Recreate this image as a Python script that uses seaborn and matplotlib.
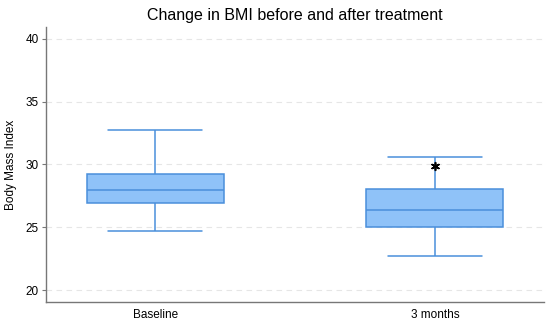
import matplotlib
matplotlib.use("Agg")
import matplotlib.pyplot as plt
import seaborn as sns
import pandas as pd

# Five-number summaries (min, Q1, median, Q3, max)
categories = ["Baseline", "3 months"]
baseline_vals = [24.68, 26.93, 27.96, 29.26, 32.78]
month3_vals = [22.67, 25.00, 26.37, 28.02, 30.58]
outlier_cat = ["3 months"]
outlier_vals = [29.86]
yticks = [20, 25, 30, 35, 40]

df = pd.DataFrame({
    "group": [categories[0]] * len(baseline_vals) + [categories[1]] * len(month3_vals),
    "bmi": baseline_vals + month3_vals,
})
out_df = pd.DataFrame({"group": outlier_cat, "bmi": outlier_vals})

sns.set_style("white")
plt.rcParams["font.family"] = ["Liberation Sans", "DejaVu Sans"]
plt.rcParams["text.color"] = "black"
plt.rcParams["axes.labelcolor"] = "black"
plt.rcParams["xtick.color"] = "black"
plt.rcParams["ytick.color"] = "black"

fig = plt.figure(figsize=(5.5, 3.24), dpi=100)
ax = fig.add_axes([0.0836, 0.068, 0.9054, 0.849])

edge = "#4a8fdb"
fill = "#8fc2f8"
sns.boxplot(data=df, x="group", y="bmi", order=categories, whis=(0, 100),
            width=0.49, color=fill, linecolor=edge, linewidth=1.1,
            showfliers=False, ax=ax)
sns.stripplot(data=out_df, x="group", y="bmi", order=categories, jitter=False,
              marker=(6, 2, 0), color="black", size=5.5, linewidth=1.2,
              edgecolor="black", ax=ax)

# widen caps to match reference
for line in ax.lines:
    xd = line.get_xdata()
    yd = line.get_ydata()
    if len(xd) == 2 and yd[0] == yd[1] and abs(xd[1] - xd[0]) < 0.3 and abs(xd[1] - xd[0]) > 0:
        c = (xd[0] + xd[1]) / 2
        line.set_xdata([c - 0.167, c + 0.167])

for p in ax.patches:
    p.set_facecolor(fill)
    p.set_edgecolor(edge)

ax.set_xlim(-0.39, 1.39)
ax.set_ylim(19.05, 40.95)
ax.set_yticks(yticks)
ax.yaxis.grid(True, linestyle=(0, (5, 4)), color="#e6e6e6", linewidth=0.8)
ax.set_axisbelow(True)
for s in ["top", "right"]:
    ax.spines[s].set_visible(False)
for s in ["left", "bottom"]:
    ax.spines[s].set_color("#777777")
    ax.spines[s].set_linewidth(1.0)
ax.tick_params(axis="y", direction="out", length=3, width=0.8, color="#777777",
               labelcolor="black", labelsize=8.5, pad=2, left=True)
ax.tick_params(axis="x", length=0, labelsize=8.5, pad=5, labelcolor="black")
ax.set_xlabel("")
ax.set_ylabel("Body Mass Index", fontsize=8.5, labelpad=6, color="black")
ax.set_title("Change in BMI before and after treatment", fontsize=11.5, pad=5,
             color="black")

fig.savefig("out.png", dpi=100)
